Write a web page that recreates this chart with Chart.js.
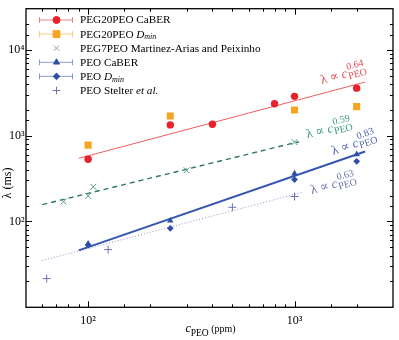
<!DOCTYPE html>
<html><head><meta charset="utf-8">
<script src="https://cdn.jsdelivr.net/npm/chart.js@4/dist/chart.umd.min.js"></script>
<style>html,body{margin:0;padding:0;background:#fff}#wrap{width:399px;height:340px}</style>
</head><body><div id="wrap"><canvas id="c" width="399" height="340"></canvas></div>
<script>
// ---- data ----
const redX = [100, 250, 400, 800, 1000, 2000];
const redY = [530, 1330, 1355, 2350, 2860, 3565];
const orangeX = [100, 250, 1000, 2000];
const orangeY = [774, 1690, 1983, 2173];
const greenX = [76, 100, 106, 300, 1000];
const greenY = [170, 199, 253, 394, 840];
const triX = [100, 250, 1000, 2000];
const triY = [55, 102, 360, 604];
const diaX = [100, 250, 1000, 2000];
const diaY = [53, 83, 307, 501];
const plusX = [63, 125, 500, 1000];
const plusY = [21.6, 47, 146, 195];
const fitRedX = [90, 2200],   fitRedY = [543, 4200];
const fitGreenX = [60, 1050], fitGreenY = [157, 848];
const fitBlueX = [90, 2200],  fitBlueY = [46, 652];
const fitDotX = [60, 1100],   fitDotY = [35, 219];
const xMajor = [100, 1000];          const xTickLabels = ['10²', '10³'];
const yMajor = [100, 1000, 10000];   const yTickLabels = ['10²', '10³', '10⁴'];
const legendLabels = ['PEG20PEO CaBER', 'PEG20PEO D_min', 'PEG7PEO Martinez-Arias and Peixinho', 'PEO CaBER', 'PEO D_min', 'PEO Stelter et al.'];
const exponents = ['0.64', '0.59', '0.83', '0.63'];

const pts = (xs, ys) => xs.map((x, i) => ({x: x, y: ys[i]}));
const SERIF = '"Liberation Serif", "DejaVu Serif", serif';

const C = {
  red: '#e8222a', redLine: '#ef5b5f', redTxt: '#e84a50',
  orange: '#f7a422',
  green: '#4f9a7c', greenLine: '#2f7a5a', greenTxt: '#3b9c74',
  blue: '#2e4fa3', blueLine: '#3556b0', blueTxt: '#5163ad',
  plus: '#6d72b5', dotLine: '#8f94c8', dotTxt: '#6a6fae'
};

function isMajor(v, list) { return list.findIndex(m => Math.abs(v - m) < 1e-6 * m); }

function drawRich(ctx, x, y, segs) {
  let cx = x;
  for (const s of segs) {
    ctx.font = (s.italic ? 'italic ' : '') + s.size + 'px ' + SERIF;
    ctx.fillStyle = s.color || ctx.fillStyle;
    ctx.fillText(s.t, cx, y + (s.dy || 0));
    if (!s.noAdvance) cx += ctx.measureText(s.t).width;
  }
  return cx - x;
}
function measureRich(ctx, segs) {
  let w = 0;
  for (const s of segs) { ctx.font = (s.italic ? 'italic ' : '') + s.size + 'px ' + SERIF; if (!s.noAdvance) w += ctx.measureText(s.t).width; }
  return w;
}

function drawLaw(ctx, x, y, angleDeg, color, exp) {
  ctx.save();
  ctx.translate(x, y);
  ctx.rotate(-angleDeg * Math.PI / 180);
  ctx.fillStyle = color;
  ctx.textBaseline = 'alphabetic';
  ctx.textAlign = 'left';
  let w = drawRich(ctx, 0, 0, [{t: 'λ ∝ ', size: 13, color: color}, {t: 'c', size: 13, italic: true, color: color}]);
  ctx.font = '10px ' + SERIF;
  ctx.fillText(exp, w + 1, -7);
  ctx.fillText('PEO', w + 0.5, 2.5);
  ctx.restore();
}

const decor = {
  id: 'decor',
  afterDraw(chart) {
    const ctx = chart.ctx, ca = chart.chartArea, xs = chart.scales.x, ys = chart.scales.y;
    ctx.save();
    // inward tick marks on all four sides
    ctx.strokeStyle = '#000'; ctx.lineWidth = 1;
    ctx.beginPath();
    for (const t of xs.ticks) {
      const v = t.value; if (v <= xs.min || v >= xs.max) continue;
      const px = Math.round(xs.getPixelForValue(v)) + 0.5;
      const L = isMajor(v, xMajor) >= 0 ? 6 : 3;
      ctx.moveTo(px, ca.bottom); ctx.lineTo(px, ca.bottom - L);
      ctx.moveTo(px, ca.top); ctx.lineTo(px, ca.top + L);
    }
    for (const t of ys.ticks) {
      const v = t.value; if (v <= ys.min || v >= ys.max) continue;
      const py = Math.round(ys.getPixelForValue(v)) + 0.5;
      const L = isMajor(v, yMajor) >= 0 ? 6 : 3;
      ctx.moveTo(ca.left, py); ctx.lineTo(ca.left + L, py);
      ctx.moveTo(ca.right, py); ctx.lineTo(ca.right - L, py);
    }
    ctx.stroke();
    ctx.lineWidth = 1.3;
    ctx.strokeRect(ca.left, ca.top, ca.right - ca.left, ca.bottom - ca.top);

    // legend
    const rows = [
      {style: 'circle', r: 3.5, color: C.red, bar: 'rgba(232,34,42,0.55)', segs: [{t: 'PEG20PEO CaBER', size: 11.2}]},
      {style: 'rect', r: 4.8, color: C.orange, bar: 'rgba(247,164,34,0.55)', segs: [{t: 'PEG20PEO ', size: 11.2}, {t: 'D', size: 11.2, italic: true}, {t: 'min', size: 8, italic: true, dy: 2.5}]},
      {style: 'crossRot', r: 3.8, color: '#8fa3a0', bar: null, segs: [{t: 'PEG7PEO Martinez-Arias and Peixinho', size: 11.2}]},
      {style: 'triangle', r: 3.5, color: C.blue, bar: 'rgba(46,79,163,0.55)', segs: [{t: 'PEO CaBER', size: 11.2}]},
      {style: 'rectRot', r: 3.3, color: C.blue, bar: 'rgba(46,79,163,0.55)', segs: [{t: 'PEO ', size: 11.2}, {t: 'D', size: 11.2, italic: true}, {t: 'min', size: 8, italic: true, dy: 2.5}]},
      {style: 'cross', r: 3.8, color: C.plus, bar: null, segs: [{t: 'PEO Stelter ', size: 11.2}, {t: 'et al.', size: 11.2, italic: true}]}
    ];
    rows.forEach((r, i) => {
      const yc = 20 + i * 14.1;
      if (r.bar) {
        ctx.strokeStyle = r.bar; ctx.lineWidth = 1;
        ctx.beginPath();
        ctx.moveTo(39.5, yc); ctx.lineTo(72.5, yc);
        ctx.moveTo(39.5, yc - 3); ctx.lineTo(39.5, yc + 3);
        ctx.moveTo(72.5, yc - 3); ctx.lineTo(72.5, yc + 3);
        ctx.stroke();
      }
      ctx.fillStyle = r.color; ctx.strokeStyle = r.color; ctx.lineWidth = 1;
      Chart.helpers.drawPoint(ctx, {pointStyle: r.style, radius: r.r, rotation: 0, borderWidth: 1}, 56.5, yc);
      ctx.fillStyle = '#000'; ctx.textBaseline = 'middle'; ctx.textAlign = 'left';
      r.segs.forEach(s => s.color = '#000');
      drawRich(ctx, 80, yc + 0.5, r.segs);
    });

    // power-law annotations
    drawLaw(ctx, 321.7, 84, 15, C.redTxt, exponents[0]);
    drawLaw(ctx, 307.3, 138.3, 13.5, C.greenTxt, exponents[1]);
    drawLaw(ctx, 333.3, 155, 19, C.blueTxt, exponents[2]);
    drawLaw(ctx, 311.7, 194, 14.5, C.dotTxt, exponents[3]);

    // axis titles
    ctx.fillStyle = '#000'; ctx.textBaseline = 'alphabetic'; ctx.textAlign = 'left';
    const xt = [{t: 'c', size: 12, italic: true}, {t: 'PEO', size: 9.5, dy: 4}, {t: ' (ppm)', size: 10}];
    const w = measureRich(ctx, xt);
    drawRich(ctx, (ca.left + ca.right) / 2 - w / 2 + 1, 331.5, xt.map(s => Object.assign({color: '#000'}, s)));
    ctx.save();
    ctx.translate(8, 183); ctx.rotate(-Math.PI / 2);
    ctx.font = '12px ' + SERIF; ctx.textAlign = 'center'; ctx.textBaseline = 'middle';
    ctx.fillText('λ (ms)', 0, 0);
    ctx.restore();
    ctx.restore();
  }
};

new Chart(document.getElementById('c'), {
  type: 'scatter',
  data: {
    datasets: [
      {label: legendLabels[0], data: pts(redX, redY), pointStyle: 'circle', pointRadius: 3.7, backgroundColor: C.red, borderColor: C.red, borderWidth: 0},
      {label: legendLabels[1], data: pts(orangeX, orangeY), pointStyle: 'rect', pointRadius: 5, backgroundColor: C.orange, borderColor: C.orange, borderWidth: 0},
      {label: legendLabels[2], data: pts(greenX, greenY), pointStyle: 'crossRot', pointRadius: 4.2, backgroundColor: C.green, borderColor: C.green, borderWidth: 1},
      {label: legendLabels[3], data: pts(triX, triY), pointStyle: 'triangle', pointRadius: 3.8, backgroundColor: C.blue, borderColor: C.blue, borderWidth: 0},
      {label: legendLabels[4], data: pts(diaX, diaY), pointStyle: 'rectRot', pointRadius: 3.4, backgroundColor: C.blue, borderColor: C.blue, borderWidth: 0},
      {label: legendLabels[5], data: pts(plusX, plusY), pointStyle: 'cross', pointRadius: 4, backgroundColor: C.plus, borderColor: C.plus, borderWidth: 1},
      {label: 'fit red', data: pts(fitRedX, fitRedY), showLine: true, pointRadius: 0, borderColor: C.redLine, borderWidth: 1},
      {label: 'fit green', data: pts(fitGreenX, fitGreenY), showLine: true, pointRadius: 0, borderColor: C.greenLine, borderWidth: 1.4, borderDash: [5, 4]},
      {label: 'fit blue', data: pts(fitBlueX, fitBlueY), showLine: true, pointRadius: 0, borderColor: C.blueLine, borderWidth: 2},
      {label: 'fit dotted', data: pts(fitDotX, fitDotY), showLine: true, pointRadius: 0, borderColor: C.dotLine, borderWidth: 1, borderDash: [1, 2]}
    ]
  },
  options: {
    responsive: false, animation: false, devicePixelRatio: 1,
    layout: {padding: {left: 0, right: 4.7, top: 6.7, bottom: 0}},
    plugins: {legend: {display: false}, tooltip: {enabled: false}},
    scales: {
      x: {
        type: 'logarithmic', min: 50, max: 3000, position: 'bottom',
        afterFit(s) { s.height = 32.7; },
        grid: {display: false, drawTicks: false}, border: {display: false},
        ticks: {autoSkip: false, maxRotation: 0, padding: 6, color: '#000', font: {family: SERIF, size: 12},
          callback(v) { const i = isMajor(v, xMajor); return i >= 0 ? xTickLabels[i] : ''; }}
      },
      y: {
        type: 'logarithmic', min: 10, max: 30000, position: 'left',
        afterFit(s) { s.width = 26; },
        grid: {display: false, drawTicks: false}, border: {display: false},
        ticks: {autoSkip: false, padding: 1.5, color: '#000', font: {family: SERIF, size: 12},
          callback(v) { const i = isMajor(v, yMajor); return i >= 0 ? yTickLabels[i] : ''; }}
      }
    }
  },
  plugins: [decor]
});
</script></body></html>
